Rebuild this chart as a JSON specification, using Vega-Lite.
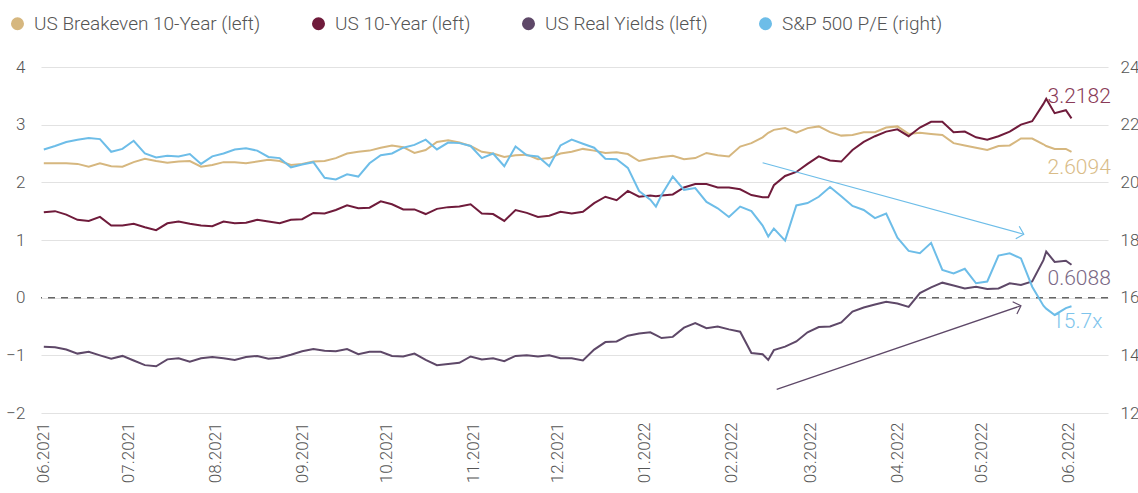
{
  "$schema": "https://vega.github.io/schema/vega-lite/v6.json",
  "width": 1067,
  "height": 346,
  "autosize": {"type": "none"},
  "padding": {"left": 41, "top": 67, "right": 30, "bottom": 80},
  "background": "white",
  "config": {
    "font": "Roboto",
    "view": {"stroke": null},
    "axis": {"labelFont": "Roboto", "labelFontWeight": 300, "labelColor": "#555555", "labelFontSize": 17, "domain": false, "ticks": false, "title": null},
    "legend": {"labelFont": "Roboto", "labelFontWeight": 300}
  },
  "datasets": {
    "main": [
      {"d": "2021-06-01", "be": 2.33, "ty": 1.48, "ry": -0.85, "pe": 21.14},
      {"d": "2021-06-05", "be": 2.33, "ty": 1.50, "ry": -0.86, "pe": 21.26},
      {"d": "2021-06-09", "be": 2.33, "ty": 1.44, "ry": -0.90, "pe": 21.40},
      {"d": "2021-06-13", "be": 2.32, "ty": 1.35, "ry": -0.97, "pe": 21.48},
      {"d": "2021-06-17", "be": 2.27, "ty": 1.33, "ry": -0.94, "pe": 21.54},
      {"d": "2021-06-21", "be": 2.33, "ty": 1.40, "ry": -1.00, "pe": 21.50},
      {"d": "2021-06-25", "be": 2.28, "ty": 1.25, "ry": -1.06, "pe": 21.06},
      {"d": "2021-06-29", "be": 2.27, "ty": 1.25, "ry": -1.01, "pe": 21.16},
      {"d": "2021-07-03", "be": 2.35, "ty": 1.28, "ry": -1.09, "pe": 21.44},
      {"d": "2021-07-07", "be": 2.41, "ty": 1.22, "ry": -1.17, "pe": 21.00},
      {"d": "2021-07-11", "be": 2.37, "ty": 1.17, "ry": -1.19, "pe": 20.86},
      {"d": "2021-07-15", "be": 2.34, "ty": 1.29, "ry": -1.07, "pe": 20.92},
      {"d": "2021-07-19", "be": 2.36, "ty": 1.32, "ry": -1.05, "pe": 20.90},
      {"d": "2021-07-23", "be": 2.37, "ty": 1.28, "ry": -1.11, "pe": 20.98},
      {"d": "2021-07-27", "be": 2.27, "ty": 1.25, "ry": -1.05, "pe": 20.64},
      {"d": "2021-07-31", "be": 2.30, "ty": 1.24, "ry": -1.03, "pe": 20.90},
      {"d": "2021-08-04", "be": 2.35, "ty": 1.32, "ry": -1.05, "pe": 21.00},
      {"d": "2021-08-08", "be": 2.35, "ty": 1.29, "ry": -1.08, "pe": 21.14},
      {"d": "2021-08-12", "be": 2.33, "ty": 1.30, "ry": -1.03, "pe": 21.18},
      {"d": "2021-08-16", "be": 2.36, "ty": 1.35, "ry": -1.01, "pe": 21.10},
      {"d": "2021-08-20", "be": 2.39, "ty": 1.32, "ry": -1.06, "pe": 20.88},
      {"d": "2021-08-24", "be": 2.37, "ty": 1.29, "ry": -1.04, "pe": 20.84},
      {"d": "2021-08-28", "be": 2.30, "ty": 1.35, "ry": -0.99, "pe": 20.52},
      {"d": "2021-09-01", "be": 2.32, "ty": 1.36, "ry": -0.93, "pe": 20.62},
      {"d": "2021-09-05", "be": 2.36, "ty": 1.47, "ry": -0.89, "pe": 20.70},
      {"d": "2021-09-09", "be": 2.37, "ty": 1.46, "ry": -0.92, "pe": 20.16},
      {"d": "2021-09-13", "be": 2.42, "ty": 1.52, "ry": -0.93, "pe": 20.10},
      {"d": "2021-09-17", "be": 2.50, "ty": 1.60, "ry": -0.89, "pe": 20.28},
      {"d": "2021-09-21", "be": 2.53, "ty": 1.55, "ry": -0.98, "pe": 20.20},
      {"d": "2021-09-25", "be": 2.55, "ty": 1.56, "ry": -0.94, "pe": 20.66},
      {"d": "2021-09-29", "be": 2.60, "ty": 1.67, "ry": -0.94, "pe": 20.94},
      {"d": "2021-10-03", "be": 2.64, "ty": 1.62, "ry": -1.01, "pe": 21.00},
      {"d": "2021-10-07", "be": 2.61, "ty": 1.53, "ry": -1.02, "pe": 21.20},
      {"d": "2021-10-11", "be": 2.51, "ty": 1.53, "ry": -0.97, "pe": 21.30},
      {"d": "2021-10-15", "be": 2.56, "ty": 1.45, "ry": -1.08, "pe": 21.48},
      {"d": "2021-10-19", "be": 2.70, "ty": 1.54, "ry": -1.17, "pe": 21.14},
      {"d": "2021-10-23", "be": 2.73, "ty": 1.57, "ry": -1.15, "pe": 21.38},
      {"d": "2021-10-27", "be": 2.69, "ty": 1.58, "ry": -1.13, "pe": 21.36},
      {"d": "2021-10-31", "be": 2.63, "ty": 1.62, "ry": -1.02, "pe": 21.26},
      {"d": "2021-11-04", "be": 2.53, "ty": 1.46, "ry": -1.07, "pe": 20.84},
      {"d": "2021-11-08", "be": 2.50, "ty": 1.45, "ry": -1.05, "pe": 21.00},
      {"d": "2021-11-12", "be": 2.44, "ty": 1.33, "ry": -1.10, "pe": 20.56},
      {"d": "2021-11-16", "be": 2.47, "ty": 1.52, "ry": -1.01, "pe": 21.24},
      {"d": "2021-11-20", "be": 2.48, "ty": 1.47, "ry": -1.00, "pe": 20.94},
      {"d": "2021-11-24", "be": 2.40, "ty": 1.40, "ry": -1.02, "pe": 20.90},
      {"d": "2021-11-28", "be": 2.42, "ty": 1.42, "ry": -1.00, "pe": 20.56},
      {"d": "2021-12-02", "be": 2.50, "ty": 1.49, "ry": -1.05, "pe": 21.28},
      {"d": "2021-12-06", "be": 2.53, "ty": 1.46, "ry": -1.05, "pe": 21.48},
      {"d": "2021-12-10", "be": 2.58, "ty": 1.49, "ry": -1.09, "pe": 21.34},
      {"d": "2021-12-14", "be": 2.55, "ty": 1.64, "ry": -0.90, "pe": 21.20},
      {"d": "2021-12-18", "be": 2.51, "ty": 1.75, "ry": -0.77, "pe": 20.82},
      {"d": "2021-12-22", "be": 2.52, "ty": 1.69, "ry": -0.76, "pe": 20.80},
      {"d": "2021-12-26", "be": 2.49, "ty": 1.85, "ry": -0.66, "pe": 20.50},
      {"d": "2021-12-30", "be": 2.37, "ty": 1.75, "ry": -0.62, "pe": 19.70},
      {"d": "2022-01-03", "be": 2.41, "ty": 1.77, "ry": -0.60, "pe": 19.40},
      {"d": "2022-01-05", "be": 2.42, "ty": 1.76, "ry": -0.65, "pe": 19.16},
      {"d": "2022-01-07", "be": 2.44, "ty": 1.77, "ry": -0.70, "pe": 19.56},
      {"d": "2022-01-11", "be": 2.46, "ty": 1.79, "ry": -0.68, "pe": 20.20},
      {"d": "2022-01-15", "be": 2.40, "ty": 1.91, "ry": -0.52, "pe": 19.74},
      {"d": "2022-01-19", "be": 2.42, "ty": 1.97, "ry": -0.44, "pe": 19.80},
      {"d": "2022-01-23", "be": 2.51, "ty": 1.97, "ry": -0.53, "pe": 19.32},
      {"d": "2022-01-27", "be": 2.47, "ty": 1.91, "ry": -0.50, "pe": 19.10},
      {"d": "2022-01-31", "be": 2.45, "ty": 1.91, "ry": -0.55, "pe": 18.80},
      {"d": "2022-02-04", "be": 2.62, "ty": 1.88, "ry": -0.59, "pe": 19.16},
      {"d": "2022-02-08", "be": 2.68, "ty": 1.78, "ry": -0.96, "pe": 19.00},
      {"d": "2022-02-12", "be": 2.78, "ty": 1.74, "ry": -0.98, "pe": 18.50},
      {"d": "2022-02-14", "be": 2.86, "ty": 1.74, "ry": -1.08, "pe": 18.12},
      {"d": "2022-02-16", "be": 2.91, "ty": 1.95, "ry": -0.91, "pe": 18.40},
      {"d": "2022-02-20", "be": 2.94, "ty": 2.11, "ry": -0.85, "pe": 17.98},
      {"d": "2022-02-24", "be": 2.86, "ty": 2.18, "ry": -0.76, "pe": 19.20},
      {"d": "2022-02-28", "be": 2.94, "ty": 2.32, "ry": -0.60, "pe": 19.28},
      {"d": "2022-03-04", "be": 2.97, "ty": 2.45, "ry": -0.51, "pe": 19.50},
      {"d": "2022-03-08", "be": 2.87, "ty": 2.38, "ry": -0.50, "pe": 19.84},
      {"d": "2022-03-12", "be": 2.81, "ty": 2.36, "ry": -0.43, "pe": 19.52},
      {"d": "2022-03-16", "be": 2.82, "ty": 2.56, "ry": -0.24, "pe": 19.18},
      {"d": "2022-03-20", "be": 2.87, "ty": 2.70, "ry": -0.17, "pe": 19.04},
      {"d": "2022-03-24", "be": 2.87, "ty": 2.80, "ry": -0.12, "pe": 18.76},
      {"d": "2022-03-28", "be": 2.95, "ty": 2.88, "ry": -0.07, "pe": 18.92},
      {"d": "2022-04-01", "be": 2.97, "ty": 2.92, "ry": -0.10, "pe": 18.08},
      {"d": "2022-04-05", "be": 2.84, "ty": 2.80, "ry": -0.16, "pe": 17.62},
      {"d": "2022-04-09", "be": 2.86, "ty": 2.95, "ry": 0.08, "pe": 17.54},
      {"d": "2022-04-13", "be": 2.84, "ty": 3.05, "ry": 0.18, "pe": 17.90},
      {"d": "2022-04-17", "be": 2.82, "ty": 3.05, "ry": 0.26, "pe": 16.96},
      {"d": "2022-04-21", "be": 2.68, "ty": 2.87, "ry": 0.21, "pe": 16.84},
      {"d": "2022-04-25", "be": 2.64, "ty": 2.88, "ry": 0.16, "pe": 17.00},
      {"d": "2022-04-29", "be": 2.60, "ty": 2.78, "ry": 0.19, "pe": 16.50},
      {"d": "2022-05-03", "be": 2.56, "ty": 2.74, "ry": 0.15, "pe": 16.56},
      {"d": "2022-05-07", "be": 2.63, "ty": 2.80, "ry": 0.16, "pe": 17.46},
      {"d": "2022-05-11", "be": 2.64, "ty": 2.88, "ry": 0.25, "pe": 17.54},
      {"d": "2022-05-15", "be": 2.76, "ty": 3.00, "ry": 0.22, "pe": 17.36},
      {"d": "2022-05-19", "be": 2.76, "ty": 3.06, "ry": 0.28, "pe": 16.38},
      {"d": "2022-05-23", "be": 2.66, "ty": 3.36, "ry": 0.65, "pe": 15.72},
      {"d": "2022-05-24", "be": 2.63, "ty": 3.45, "ry": 0.80, "pe": 15.62},
      {"d": "2022-05-27", "be": 2.58, "ty": 3.20, "ry": 0.62, "pe": 15.40},
      {"d": "2022-05-31", "be": 2.58, "ty": 3.25, "ry": 0.64, "pe": 15.64},
      {"d": "2022-06-02", "be": 2.53, "ty": 3.11, "ry": 0.57, "pe": 15.70}
    ]
  },
  "layer": [
    {
      "layer": [
        {
          "data": {"name": "main"},
          "mark": {"type": "line", "strokeWidth": 2},
          "encoding": {
            "x": {
              "field": "d", "type": "temporal",
              "scale": {"type": "utc", "domain": ["2021-05-31", "2022-06-15"]},
              "axis": {"format": "%m.%Y", "values": ["2021-06-01", "2021-07-01", "2021-08-01", "2021-09-01", "2021-10-01", "2021-11-01", "2021-12-01", "2022-01-01", "2022-02-01", "2022-03-01", "2022-04-01", "2022-05-01", "2022-06-01"], "labelAngle": 270, "labelAlign": "right", "labelBaseline": "middle", "labelPadding": 9, "grid": false, "labelOverlap": false, "labelFontSize": 17}
            },
            "y": {"field": "be", "type": "quantitative", "scale": {"domain": [-2, 4], "nice": false, "zero": false},
              "axis": {"orient": "left", "values": [-2, -1, 0, 1, 2, 3, 4], "format": "d", "grid": true, "gridColor": "#e2e2e2", "gridWidth": 1.2, "labelPadding": 16, "labelFontSize": 17}},
            "color": {"datum": "US Breakeven 10-Year (left)", "type": "nominal",
              "scale": {"domain": ["US Breakeven 10-Year (left)", "US 10-Year (left)", "US Real Yields (left)", "S&P 500 P/E (right)"], "range": ["#D6B77F", "#6F1B3B", "#5E4868", "#6DBDE8"]},
              "legend": {"orient": "none", "legendX": -33, "legendY": -53, "direction": "horizontal", "title": null, "symbolType": "circle", "symbolSize": 170, "labelFontSize": 19, "labelLimit": 0, "labelColor": "#555555", "columnPadding": 48, "labelOffset": 7,
                "encode": {"symbols": {"update": {"fill": {"scale": "color", "field": "value"}, "strokeWidth": {"value": 0}}}}}}
          }
        },
        {
          "data": {"name": "main"},
          "mark": {"type": "line", "strokeWidth": 2},
          "encoding": {
            "x": {"field": "d", "type": "temporal"},
            "y": {"field": "ty", "type": "quantitative"},
            "color": {"datum": "US 10-Year (left)", "type": "nominal"}
          }
        },
        {
          "data": {"name": "main"},
          "mark": {"type": "line", "strokeWidth": 2},
          "encoding": {
            "x": {"field": "d", "type": "temporal"},
            "y": {"field": "ry", "type": "quantitative"},
            "color": {"datum": "US Real Yields (left)", "type": "nominal"}
          }
        },
        {
          "data": {"values": [{"v": 0}]},
          "mark": {"type": "rule", "stroke": "#666666", "strokeWidth": 1.5, "strokeDash": [7, 6]},
          "encoding": {"y": {"field": "v", "type": "quantitative"}}
        },
        {
          "data": {"values": [{"d": "2022-02-17", "v": -1.59, "d2": "2022-05-15", "v2": -0.14}]},
          "mark": {"type": "rule", "stroke": "#5E4868", "strokeWidth": 1.2},
          "encoding": {"x": {"field": "d", "type": "temporal"}, "x2": {"field": "d2"}, "y": {"field": "v", "type": "quantitative"}, "y2": {"field": "v2"}}
        },
        {
          "data": {"values": [{"d": "2022-05-15", "v": -0.14}]},
          "mark": {"type": "point", "shape": "M-1,-1L0,0L-1,1", "filled": false, "stroke": "#5E4868", "strokeWidth": 1.2, "size": 170, "angle": 341, "opacity": 1},
          "encoding": {"x": {"field": "d", "type": "temporal"}, "y": {"field": "v", "type": "quantitative"}}
        },
        {
          "data": {"values": [{"d": "2022-06-16", "v": 3.48, "t": "3.2182"}]},
          "mark": {"type": "text", "align": "right", "baseline": "middle", "fontSize": 21, "fontWeight": 300, "color": "#8A3B58"},
          "encoding": {"x": {"field": "d", "type": "temporal"}, "y": {"field": "v", "type": "quantitative"}, "text": {"field": "t"}}
        },
        {
          "data": {"values": [{"d": "2022-06-16", "v": 2.25, "t": "2.6094"}]},
          "mark": {"type": "text", "align": "right", "baseline": "middle", "fontSize": 21, "fontWeight": 300, "color": "#D9BC88"},
          "encoding": {"x": {"field": "d", "type": "temporal"}, "y": {"field": "v", "type": "quantitative"}, "text": {"field": "t"}}
        },
        {
          "data": {"values": [{"d": "2022-06-16", "v": 0.32, "t": "0.6088"}]},
          "mark": {"type": "text", "align": "right", "baseline": "middle", "fontSize": 21, "fontWeight": 300, "color": "#7A6885"},
          "encoding": {"x": {"field": "d", "type": "temporal"}, "y": {"field": "v", "type": "quantitative"}, "text": {"field": "t"}}
        },
        {
          "data": {"values": [{"d": "2022-06-13", "v": -0.42, "t": "15.7x"}]},
          "mark": {"type": "text", "align": "right", "baseline": "middle", "fontSize": 21, "fontWeight": 300, "color": "#7DC4EC"},
          "encoding": {"x": {"field": "d", "type": "temporal"}, "y": {"field": "v", "type": "quantitative"}, "text": {"field": "t"}}
        }
      ]
    },
    {
      "layer": [
        {
          "data": {"name": "main"},
          "mark": {"type": "line", "strokeWidth": 2},
          "encoding": {
            "x": {"field": "d", "type": "temporal"},
            "y": {"field": "pe", "type": "quantitative", "scale": {"domain": [12, 24], "nice": false, "zero": false},
              "axis": {"orient": "right", "values": [12, 14, 16, 18, 20, 22, 24], "format": "d", "grid": false, "labelPadding": 12, "labelFontSize": 17}},
            "color": {"datum": "S&P 500 P/E (right)", "type": "nominal"}
          }
        },
        {
          "data": {"values": [{"d": "2022-02-12", "v": 20.68, "d2": "2022-05-16", "v2": 18.2}]},
          "mark": {"type": "rule", "stroke": "#6DBDE8", "strokeWidth": 1.2},
          "encoding": {"x": {"field": "d", "type": "temporal"}, "x2": {"field": "d2"}, "y": {"field": "v", "type": "quantitative"}, "y2": {"field": "v2"}}
        },
        {
          "data": {"values": [{"d": "2022-05-16", "v": 18.2}]},
          "mark": {"type": "point", "shape": "M-1,-1L0,0L-1,1", "filled": false, "stroke": "#6DBDE8", "strokeWidth": 1.2, "size": 170, "angle": 15.4, "opacity": 1},
          "encoding": {"x": {"field": "d", "type": "temporal"}, "y": {"field": "v", "type": "quantitative"}}
        }
      ]
    }
  ],
  "resolve": {"scale": {"y": "independent"}, "axis": {"y": "independent"}}
}
